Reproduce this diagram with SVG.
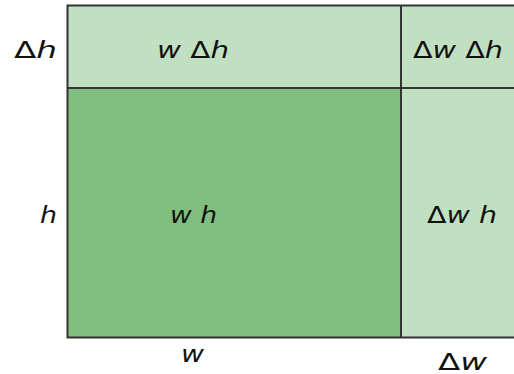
<svg xmlns="http://www.w3.org/2000/svg" width="514" height="374" viewBox="0 0 514 374">
<style>
.t{font-family:"DejaVu Sans",sans-serif;font-size:23px;fill:#111}
.i{font-style:italic}
.dark{fill:#80bf80}
.light{fill:#c1e0c1}
.ln{stroke:#333;stroke-width:2;fill:none}
</style>
<rect width="514" height="374" fill="#fff"/>
<g id="wh"><rect class="dark" x="67" y="88" width="334" height="250"/><text class="t i" x="170" y="223" textLength="47" lengthAdjust="spacingAndGlyphs">w h</text></g>
<g id="wdh"><rect class="light" x="67" y="5" width="334" height="83"/><text class="t" x="157" y="58" textLength="72" lengthAdjust="spacingAndGlyphs"><tspan class="i">w </tspan>Δ<tspan class="i">h</tspan></text></g>
<g id="dwdh"><rect class="light" x="401" y="5" width="113" height="83"/><text class="t" x="413" y="58" textLength="90" lengthAdjust="spacingAndGlyphs">Δ<tspan class="i">w </tspan>Δ<tspan class="i">h</tspan></text></g>
<g id="dwh"><rect class="light" x="401" y="88" width="113" height="250"/><text class="t" x="427" y="223" textLength="70" lengthAdjust="spacingAndGlyphs">Δ<tspan class="i">w h</tspan></text></g>
<g id="lines">
<path class="ln" d="M514 5.5H67.5V337.5H514M67 88H514M401 5V338"/>
</g>
<g id="labels">
<text class="t" x="14" y="58" textLength="43" lengthAdjust="spacingAndGlyphs">Δ<tspan class="i">h</tspan></text>
<text class="t i" x="40" y="223" textLength="17" lengthAdjust="spacingAndGlyphs">h</text>
<text class="t i" x="181" y="362" textLength="23" lengthAdjust="spacingAndGlyphs">w</text>
<text class="t" x="438" y="370" textLength="49" lengthAdjust="spacingAndGlyphs">Δ<tspan class="i">w</tspan></text>
</g>
</svg>
